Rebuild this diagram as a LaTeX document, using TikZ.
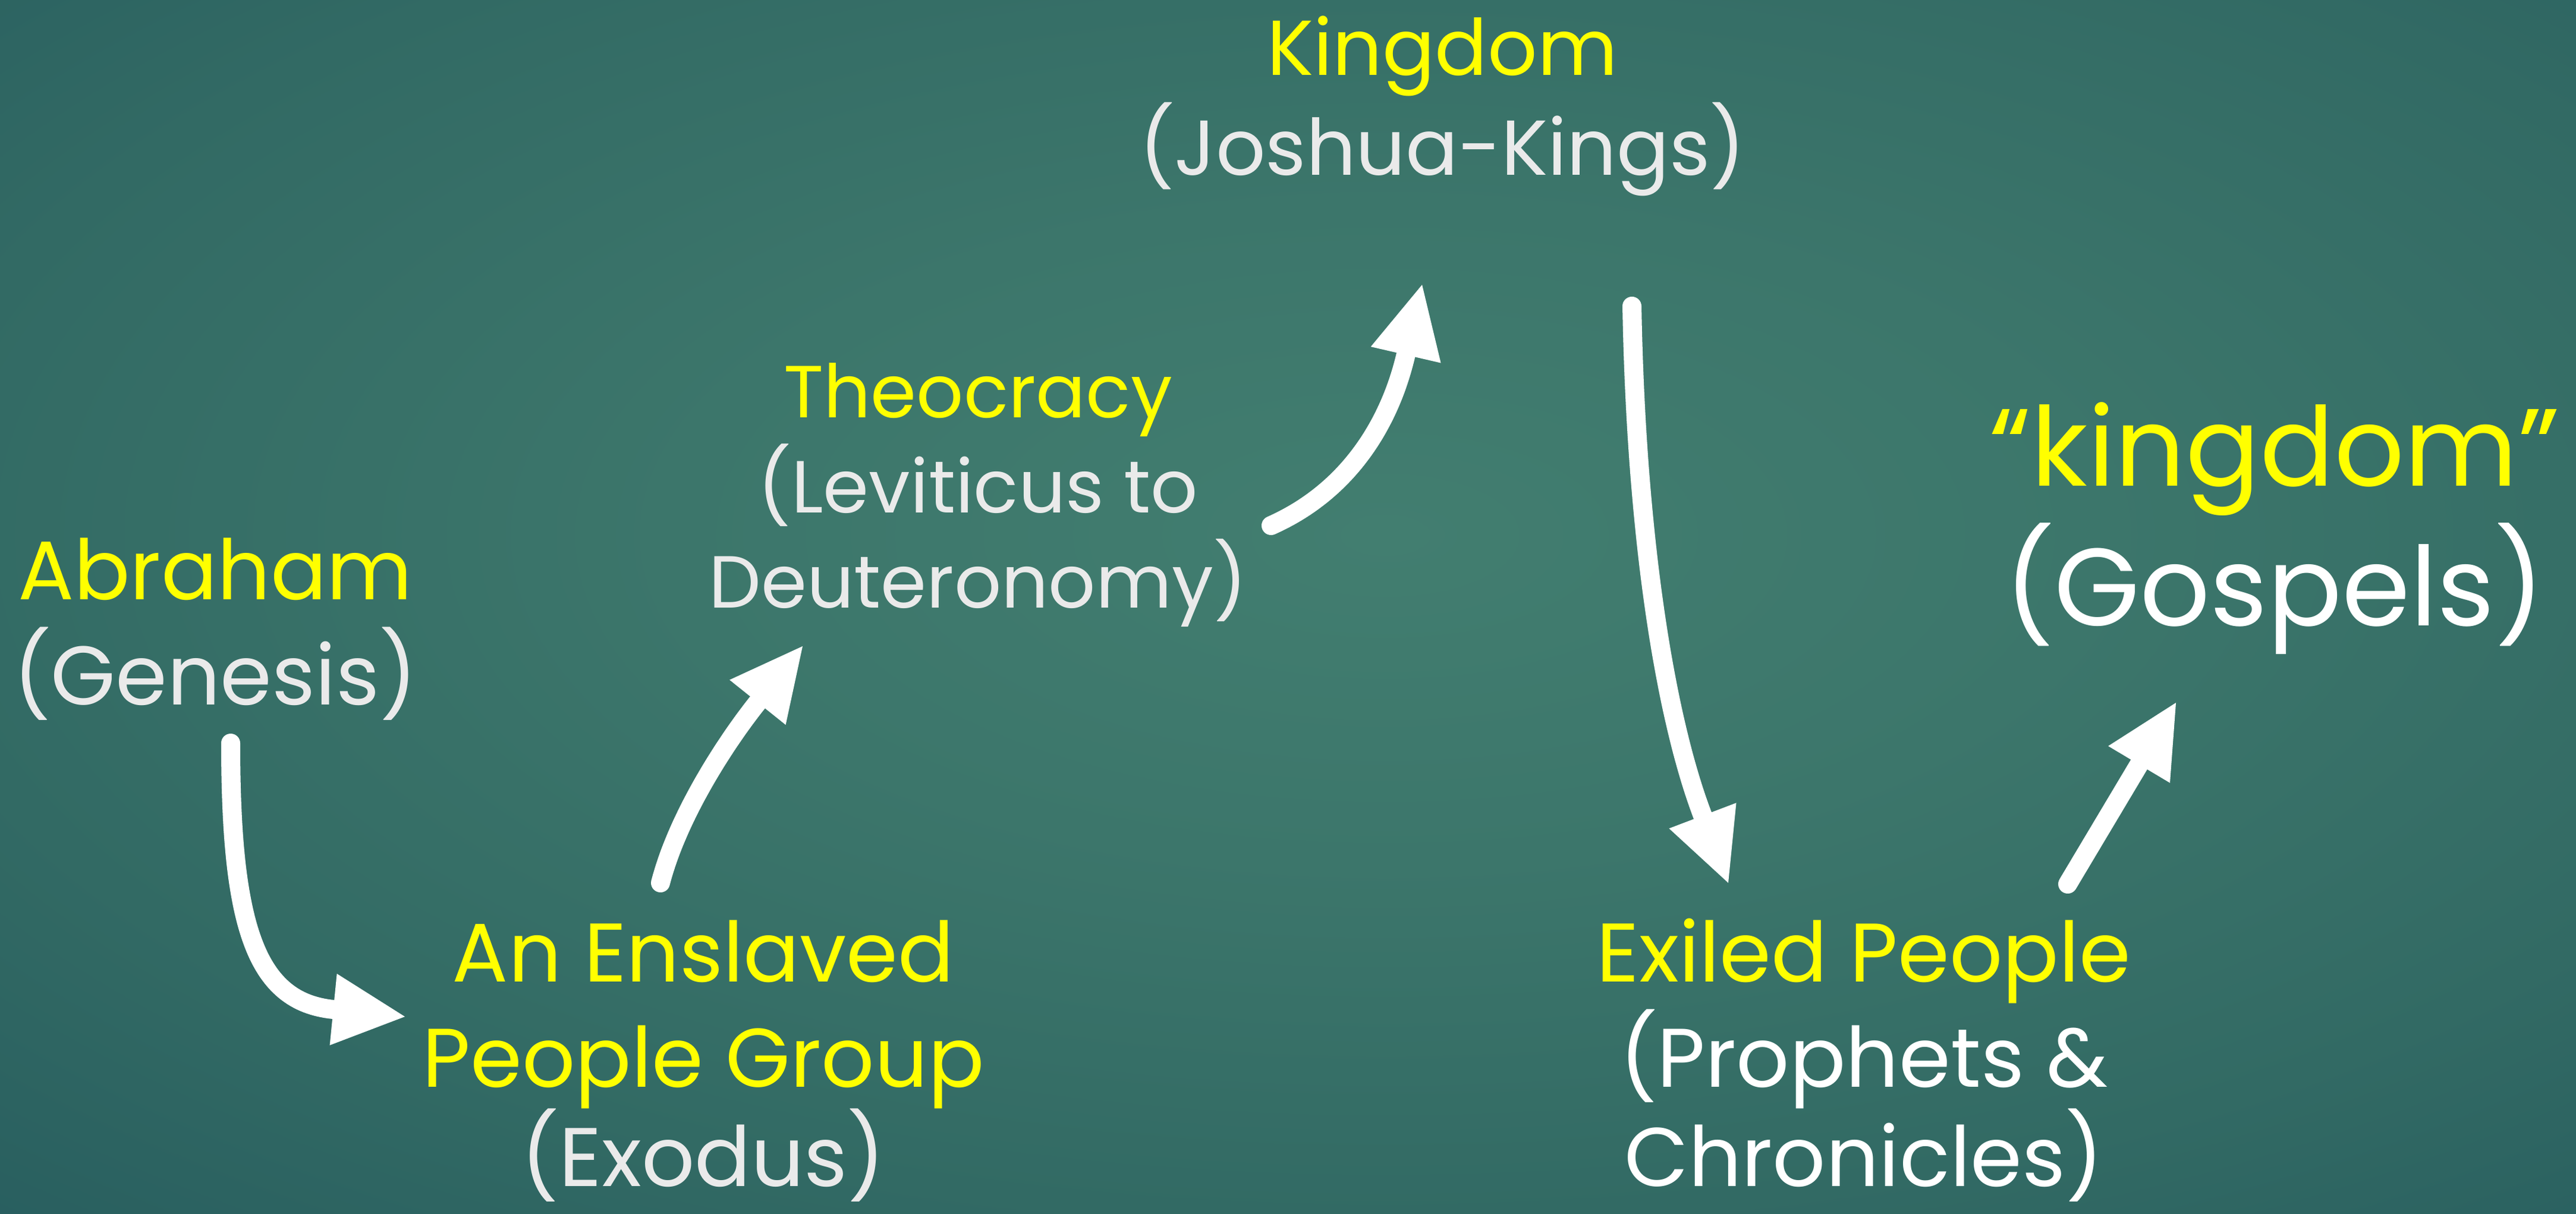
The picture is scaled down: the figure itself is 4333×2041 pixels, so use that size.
\documentclass[tikz,border=0pt]{standalone}
\usepackage{fontspec}
\setmainfont{Poppins}
\usetikzlibrary{arrows.meta}
\definecolor{ylw}{RGB}{255,255,0}
\definecolor{gry}{RGB}{234,234,234}
\definecolor{bgA}{RGB}{66,126,112}
\definecolor{bgB}{RGB}{60,118,107}
\definecolor{bgC}{RGB}{50,106,100}
\definecolor{bgD}{RGB}{40,94,95}
\definecolor{bgE}{RGB}{32,82,89}
\definecolor{bgF}{RGB}{26,70,81}
\definecolor{bgG}{RGB}{20,58,72}
\pgfdeclareradialshading{bgshade}{\pgfpoint{0bp}{0bp}}{%
  color(0bp)=(bgA); color(12bp)=(bgB); color(25bp)=(bgC); color(35bp)=(bgD);
  color(45bp)=(bgE); color(55bp)=(bgF); color(70bp)=(bgG)}
\tikzset{
  ttl/.style={text=ylw, anchor=base, inner sep=0pt},
  sub/.style={text=gry, anchor=base, inner sep=0pt},
  subw/.style={text=white, anchor=base, inner sep=0pt},
  fmid/.style={font=\fontsize{31}{37}\selectfont},
  ftop/.style={font=\fontsize{29}{35}\selectfont},
  fsma/.style={font=\fontsize{27.5}{33}\selectfont},
  fbig/.style={font=\fontsize{41}{49}\selectfont},
  flow/.style={draw=white, line width=7.09pt, line cap=round,
    -{Triangle[length=26.8pt,width=26.8pt,line width=0pt]}}
}
\begin{document}
\begin{tikzpicture}[x=0.22155pt, y=-0.22155pt]
\useasboundingbox (0,0) rectangle (4333,2041);
\begin{scope}
  \clip (0,0) rectangle (4333,2041);
  \shade[shading=bgshade] (-170,-250) rectangle (4830,2050);
\end{scope}

% Abraham
\node[ttl, fmid] (abr1) at (362,1008) {Abraham};
\node[sub, fmid] (abr2) at (362,1185) {(Genesis)};

% An Enslaved People Group
\node[ttl, fmid] (ens1) at (1183,1651) {An Enslaved};
\node[ttl, fmid] (ens2) at (1183,1828) {People Group};
\node[sub, fmid] (ens3) at (1183,1995) {(Exodus)};

% Theocracy
\node[ttl, fsma] (the1) at (1645,702) {Theocracy};
\node[sub, fsma] (the2) at (1645,862) {(Leviticus to};
\node[sub, fsma] (the3) at (1645,1022) {Deuteronomy)};

% Kingdom
\node[ttl, ftop] (kin1) at (2426,126) {Kingdom};
\node[sub, ftop] (kin2) at (2426,294) {(Joshua-Kings)};

% Exiled People
\node[ttl, fmid] (exi1) at (3135,1651) {Exiled People};
\node[subw, fmid] (exi2) at (3135,1828) {(Prophets \&};
\node[subw, fmid] (exi3) at (3135,1995) {Chronicles)};

% kingdom (Gospels)
\node[ttl, fbig] (gos1) at (3826,817) {“kingdom”};
\node[subw, fbig] (gos2) at (3826,1052) {(Gospels)};

% arrow end points
\coordinate (a1s) at (388,1250);
\coordinate (a1e) at (681,1710);
\coordinate (a2s) at (1111,1485);
\coordinate (a2e) at (1350,1087);
\coordinate (a3s) at (2138,884);
\coordinate (a3e) at (2392,479);
\coordinate (a4s) at (2745,515);
\coordinate (a4e) at (2907,1485);
\coordinate (a5s) at (3478,1487);
\coordinate (a5e) at (3660,1182);

\draw[flow] (a1s) .. controls (388,1560) and (431,1685) .. (a1e);
\draw[flow] (a2s) .. controls (1141,1369) and (1225,1243) .. (a2e);
\draw[flow] (a3s) .. controls (2275,823) and (2340,703) .. (a3e);
\draw[flow] (a4s) .. controls (2752,900) and (2800,1204) .. (a4e);
\draw[flow] (a5s) -- (a5e);
\end{tikzpicture}
\end{document}
